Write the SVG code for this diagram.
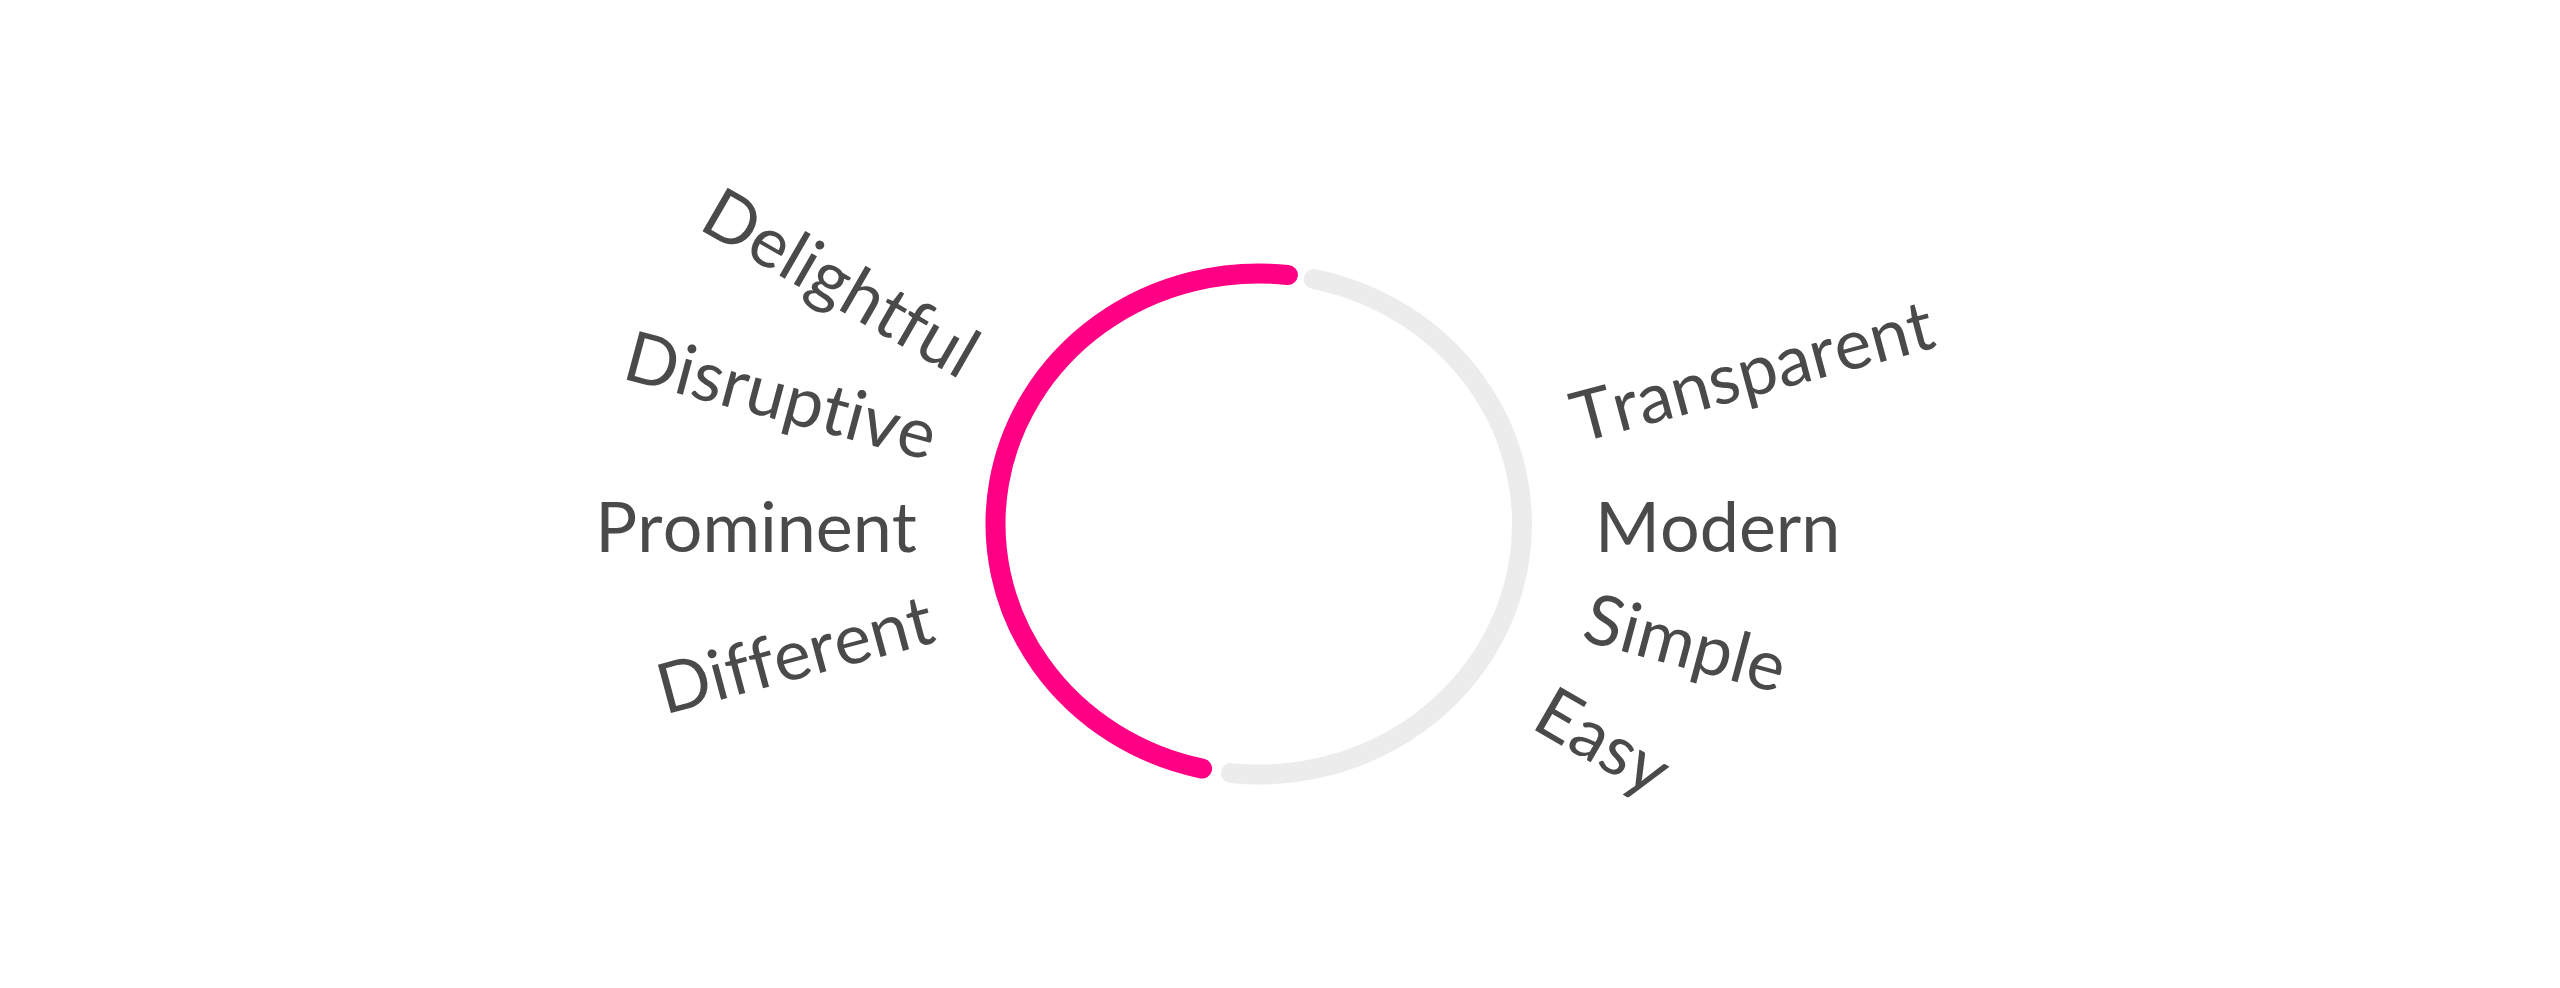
<svg xmlns="http://www.w3.org/2000/svg" width="2560" height="988" viewBox="0 0 2560 988">
  <style>
    .bg { fill: #ffffff; }
    .arc { fill: none; stroke-width: 20; stroke-linecap: round; }
    .pink { stroke: #ff0084; }
    .gray { stroke: #ececec; }
    .word { font-family: Lato, "Liberation Sans", sans-serif; font-size: 70px; fill: #4a4a4a; font-kerning: none; font-variant-ligatures: none; font-feature-settings: "kern" 0, "liga" 0, "clig" 0, "dlig" 0; }
  </style>
  <rect class="bg" x="0" y="0" width="2560" height="988"/>
  <g id="ring">
    <path id="arc-pink" class="arc pink" d="M1202.1,768.6 A263,250.5 0 0 1 1287.9,275.0"/>
    <path id="arc-gray" class="arc gray" d="M1313.7,279.0 A263,250.5 0 0 1 1231.0,773.1"/>
  </g>
  <g id="word-delightful"><text class="word" transform="translate(696.9,228) rotate(30)">Delightful</text></g>
  <g id="word-disruptive"><text class="word" transform="translate(620.4,378) rotate(15)">Disruptive</text></g>
  <g id="word-prominent"><text class="word" transform="translate(595.2,551.7)">Prominent</text></g>
  <g id="word-different"><text class="word" transform="translate(664.7,714.7) rotate(-15)">Different</text></g>
  <g id="word-transparent"><text class="word" transform="translate(1579,443) rotate(-15)">Transparent</text></g>
  <g id="word-modern"><text class="word" transform="translate(1595,551.7)">Modern</text></g>
  <g id="word-simple"><text class="word" transform="translate(1580,640) rotate(15)">Simple</text></g>
  <g id="word-easy"><text class="word" transform="translate(1529.5,727) rotate(30)">Easy</text></g>
</svg>
